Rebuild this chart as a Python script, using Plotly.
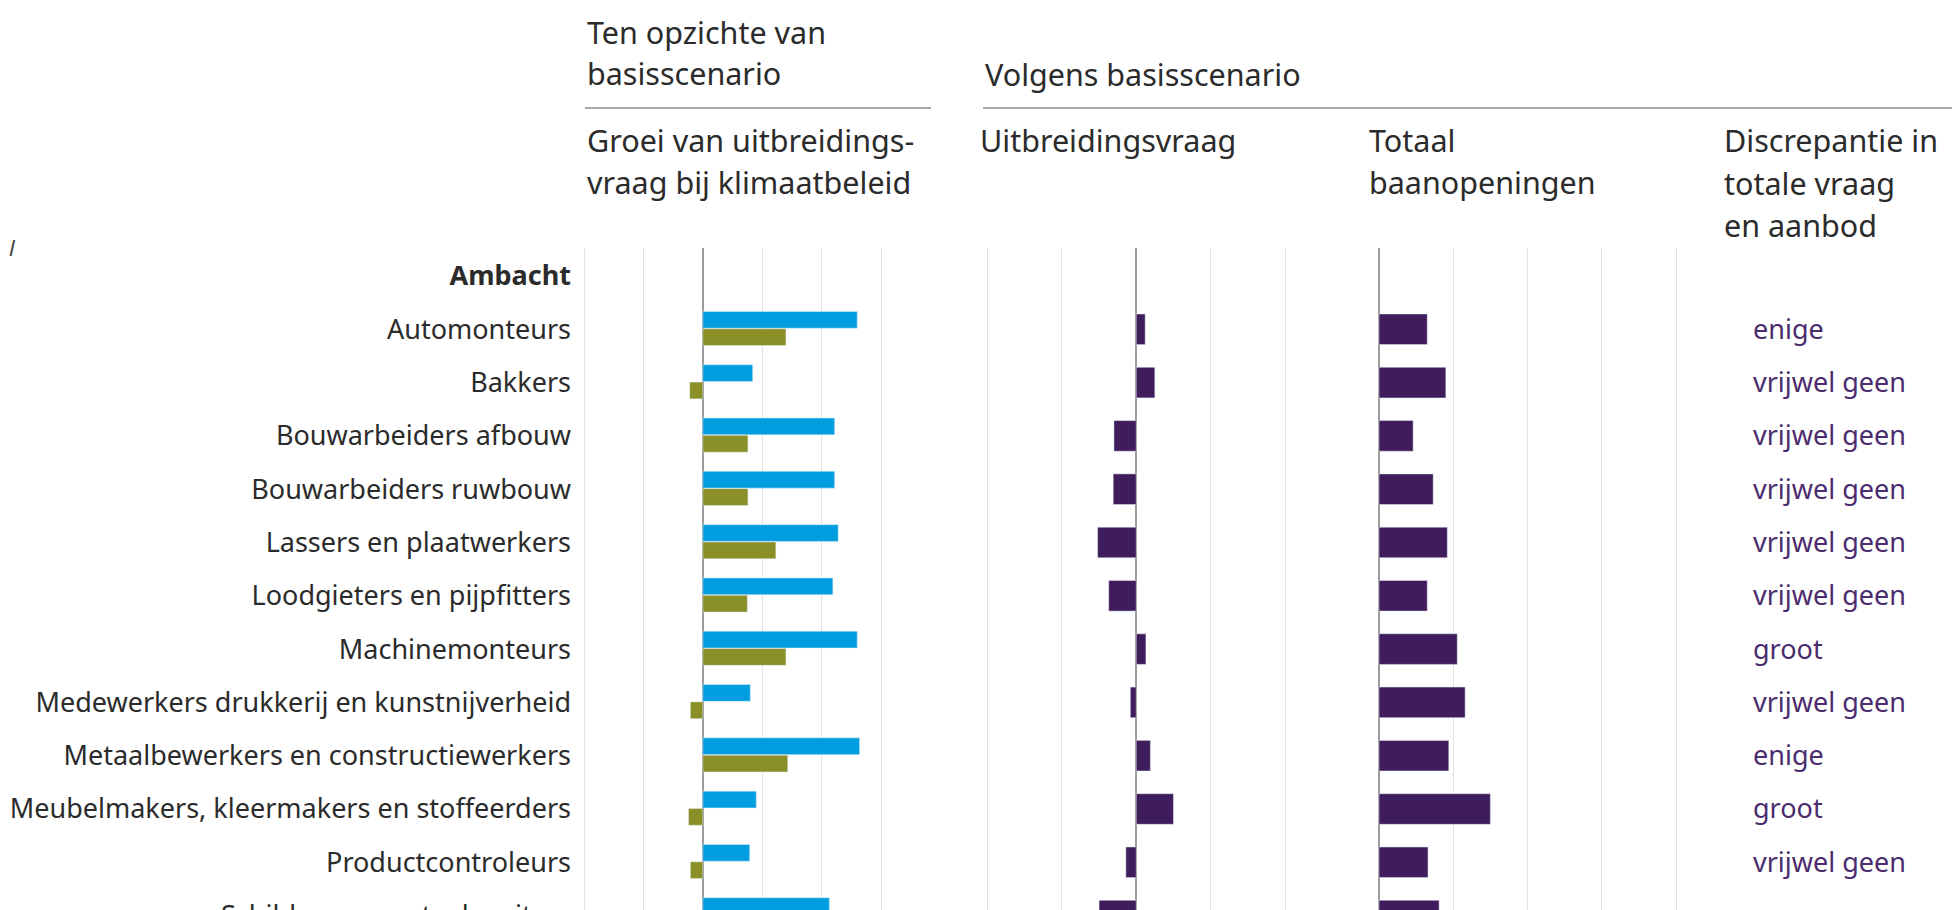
import plotly.graph_objects as go

# ---------------- data ----------------
categories = [
    "<b>Ambacht</b>",
    "Automonteurs",
    "Bakkers",
    "Bouwarbeiders afbouw",
    "Bouwarbeiders ruwbouw",
    "Lassers en plaatwerkers",
    "Loodgieters en pijpfitters",
    "Machinemonteurs",
    "Medewerkers drukkerij en kunstnijverheid",
    "Metaalbewerkers en constructiewerkers",
    "Meubelmakers, kleermakers en stoffeerders",
    "Productcontroleurs",
    "Schilders en metaalspuiters",
]
# Groei van uitbreidingsvraag bij klimaatbeleid (t.o.v. basisscenario)
groei_blauw = [None, 13.0, 4.2, 11.1, 11.1, 11.4, 10.95, 13.0, 4.0, 13.2, 4.5, 3.95, 10.65]
groei_olijf = [None, 7.0, -1.1, 3.8, 3.8, 6.15, 3.75, 7.0, -1.05, 7.15, -1.2, -1.05, 3.5]
# Volgens basisscenario
uitbreidingsvraag = [None, 0.12, 0.25, -0.30, -0.31, -0.52, -0.37, 0.13, -0.08, 0.19, 0.50, -0.14, -0.50]
baanopeningen = [None, 3.25, 4.5, 2.3, 3.65, 4.6, 3.25, 5.27, 5.8, 4.7, 7.5, 3.3, 4.05]
discrepantie = ["", "enige", "vrijwel geen", "vrijwel geen", "vrijwel geen", "vrijwel geen",
                "vrijwel geen", "groot", "vrijwel geen", "enige", "groot", "vrijwel geen", "geen"]

ticks_groei = [-10, -5, 0, 5, 10, 15]
ticks_uitbreiding = [-2, -1, 0, 1, 2]
ticks_baan = [0, 5, 10, 15, 20]

pos = list(range(len(categories)))

# ---------------- style ----------------
W, H = 1960, 910
OFF = 8                      # page body margin offset
TOP, BOTTOM = 248, 918       # plot area top/bottom in viewport pixels
ROW = 53.3                   # row pitch in pixels
FIRST_ROW = 276              # viewport y of first row
FONT = "Noto Sans"
FS = 27
FS_HEAD = 30.5
TXT = "#2b2b2b"
BLUE = "#009ee0"
OLIVE = "#8b8f27"
PURPLE = "#3f1d5c"
PURPLE_TXT = "#4b2c6e"
GRID = "#e2e2e2"
ZERO = "#9c9c9c"


def px_x(x):
    return (x - OFF) / W


def px_y(y):
    return (BOTTOM - y) / (BOTTOM - TOP)


def panel(lo_px, hi_px, ticks, pad=2.0):
    lo_val, hi_val = ticks[0], ticks[-1]
    per_px = (hi_val - lo_val) / (hi_px - lo_px)
    return ([px_x(lo_px - pad), px_x(hi_px + pad)],
            [lo_val - pad * per_px, hi_val + pad * per_px])


fig = go.Figure()

fig.add_trace(go.Bar(x=groei_blauw, y=pos, orientation="h", marker_color=BLUE,
                     width=0.315, offset=-0.335, xaxis="x", yaxis="y",
                     name="Groei uitbreidingsvraag (blauw)", showlegend=False))
fig.add_trace(go.Bar(x=groei_olijf, y=pos, orientation="h", marker_color=OLIVE,
                     width=0.315, offset=-0.01, xaxis="x", yaxis="y",
                     name="Groei uitbreidingsvraag (olijf)", showlegend=False))
fig.add_trace(go.Bar(x=uitbreidingsvraag, y=pos, orientation="h", marker_color=PURPLE,
                     width=0.575, xaxis="x2", yaxis="y",
                     name="Uitbreidingsvraag", showlegend=False))
fig.add_trace(go.Bar(x=baanopeningen, y=pos, orientation="h", marker_color=PURPLE,
                     width=0.575, xaxis="x3", yaxis="y",
                     name="Totaal baanopeningen", showlegend=False))
# carrier trace for the discrepancy axis (right-side labels)
fig.add_trace(go.Scatter(x=[0] * len(pos), y=pos, mode="markers",
                         marker=dict(size=1, opacity=0), xaxis="x3", yaxis="y2",
                         hoverinfo="skip", showlegend=False))

yrange = [(BOTTOM - FIRST_ROW) / ROW, -(FIRST_ROW - TOP) / ROW]
common_x = dict(showticklabels=False, showgrid=True, gridcolor=GRID, gridwidth=1,
                zeroline=True, zerolinecolor=ZERO, zerolinewidth=1.5, automargin=False,
                ticks="", showline=False, fixedrange=True, anchor="y", tickmode="array")

d1, r1 = panel(584, 881, ticks_groei)
d2, r2 = panel(987.5, 1285, ticks_uitbreiding)
d3, r3 = panel(1379, 1676, ticks_baan)

fig.update_layout(
    width=W, height=H,
    margin=dict(l=0, r=0, t=TOP - OFF, b=max(0, H - (BOTTOM - OFF)), pad=0),
    paper_bgcolor="white", plot_bgcolor="white",
    barmode="overlay",
    font=dict(family=FONT, size=FS, color=TXT),
    xaxis=dict(domain=d1, range=r1, tickvals=ticks_groei, **common_x),
    xaxis2=dict(domain=d2, range=r2, tickvals=ticks_uitbreiding, **common_x),
    xaxis3=dict(domain=d3, range=r3, tickvals=ticks_baan, **common_x),
    yaxis=dict(domain=[0, 1], range=yrange, tickmode="array", tickvals=pos,
               ticktext=categories, showgrid=False, zeroline=False, ticks="",
               ticklabelstandoff=10, ticklabeloverflow="allow", automargin=False,
               tickfont=dict(family=FONT, size=FS, color=TXT),
               fixedrange=True, anchor="x"),
    yaxis2=dict(overlaying="y", side="right", anchor="free", position=px_x(1752),
                range=yrange, tickmode="array", tickvals=pos, ticktext=discrepantie,
                showgrid=False, zeroline=False, ticks="", showline=False,
                ticklabeloverflow="allow", automargin=False,
                tickfont=dict(family=FONT, size=FS, color=PURPLE_TXT), fixedrange=True),
)

headers = [
    ("Ten opzichte van", 585, 32),
    ("basisscenario", 585, 73),
    ("Volgens basisscenario", 983, 74),
    ("Groei van uitbreidings-", 585, 140),
    ("vraag bij klimaatbeleid", 585, 182),
    ("Uitbreidingsvraag", 978, 140),
    ("Totaal", 1367, 140),
    ("baanopeningen", 1367, 182),
    ("Discrepantie in", 1722, 140),
    ("totale vraag", 1722, 183),
    ("en aanbod", 1722, 225),
]
for text, x, y in headers:
    fig.add_annotation(text=text, x=px_x(x), y=px_y(y), xref="paper", yref="paper",
                       xanchor="left", yanchor="middle", showarrow=False,
                       font=dict(family=FONT, size=FS_HEAD, color=TXT))

fig.add_annotation(text="<i>l</i>", x=px_x(7), y=px_y(247), xref="paper", yref="paper",
                   xanchor="left", yanchor="middle", showarrow=False,
                   font=dict(family=FONT, size=22, color="#444"))

for x0, x1 in [(585, 931), (983, 1952)]:
    fig.add_shape(type="line", xref="paper", yref="paper", x0=px_x(x0), x1=px_x(x1),
                  y0=px_y(108), y1=px_y(108), line=dict(color="#8c8c8c", width=1.5))

fig.write_html("out.html")
